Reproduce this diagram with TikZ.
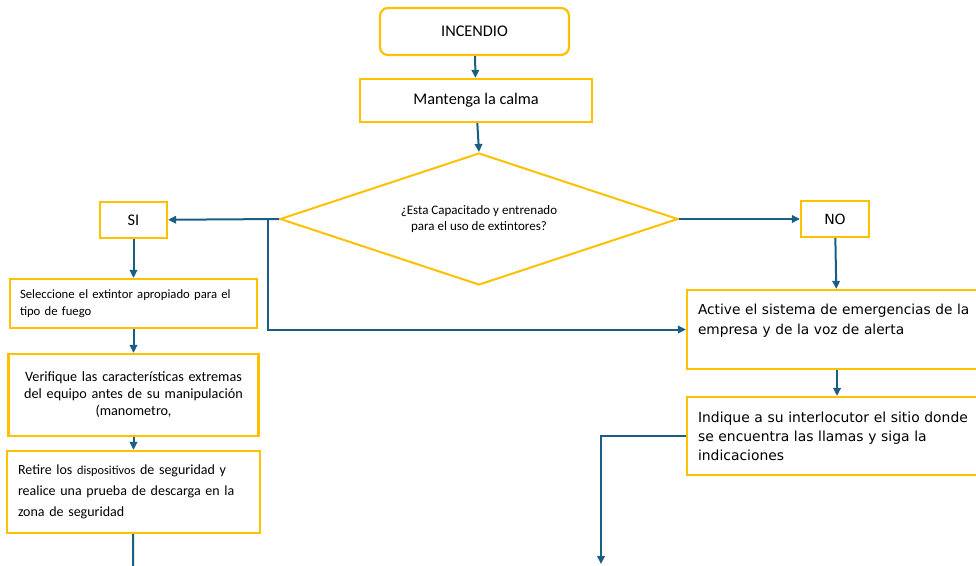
\documentclass[tikz,border=0pt]{standalone}
\usepackage{fontspec}
\setmainfont{Carlito}
\newfontfamily\verdfont{DejaVu Sans}
\usetikzlibrary{shapes.geometric,arrows.meta}
\definecolor{gold}{HTML}{FFC000}
\definecolor{flecha}{HTML}{1B5E84}
\begin{document}
\begin{tikzpicture}[
    x=1pt, y=-1pt,
    box/.style={
        rectangle, draw=gold, fill=white, line width=2.2pt,
        inner sep=0pt, align=center,
        font=\fontsize{16.3}{19}\selectfont
    },
    startbox/.style={box, rounded corners=8pt},
    decision/.style={
        diamond, aspect=3, draw=gold, fill=white, line width=2pt,
        inner sep=0pt, align=center,
        minimum width=398pt, minimum height=132pt,
        font=\fontsize{13}{16}\selectfont
    },
    textbox/.style={box, align=left},
    arr/.style={-{Triangle[length=8pt,width=7.5pt]}, line width=2pt, flecha},
    lin/.style={line width=2pt, flecha},
]
\useasboundingbox (0,0) rectangle (976,565);
\clip (0,0) rectangle (976,565);

% Nodes
\node[startbox, minimum width=189pt, minimum height=47pt] (incendio) at (474.5,31.5) {INCENDIO};
\node[box, minimum width=232pt, minimum height=43pt] (calma) at (476,100.5) {Mantenga la calma};
\node[decision] (pregunta) at (479,219) {¿Esta Capacitado y entrenado\\para el uso de extintores?};
\node[box, minimum width=67pt, minimum height=36pt] (si) at (133.5,220) {SI};
\node[box, minimum width=68pt, minimum height=36pt, font=\verdfont\fontsize{14}{17}\selectfont] (no) at (835,219) {NO};

% Left branch
\node[textbox, below of=si, node distance=83.5pt, minimum width=247pt, minimum height=49pt,
    text width=227pt, font=\fontsize{12.7}{17}\selectfont] (selec)
    {Seleccione el extintor apropiado para el\\tipo de fuego};
\node[box, below of=selec, node distance=91.5pt, minimum width=250pt, minimum height=82pt,
    text width=240pt, font=\fontsize{14.2}{17}\selectfont] (verif)
    {Verifique las características extremas\\del equipo antes de su manipulación\\(manometro,};
\node[textbox, below of=verif, node distance=97pt, minimum width=253pt, minimum height=82pt,
    text width=231pt, font=\fontsize{14}{21}\selectfont] (retire)
    {Retire los {\fontsize{12.3}{21}\selectfont dispositivos} de seguridad y\\realice una prueba de descarga en la\\zona de seguridad};

% Right branch
\node[textbox, minimum width=300pt, minimum height=79pt, text width=278pt,
    font=\verdfont\fontsize{13.75}{20}\selectfont] (activa) at (837,329.5)
    {Active el sistema de emergencias de la\\empresa y de la voz de alerta\\\mbox{}};
\node[textbox, below of=activa, node distance=106.5pt, minimum width=300pt, minimum height=78pt,
    text width=278pt, font=\verdfont\fontsize{13.9}{19}\selectfont] (indique)
    {Indique a su interlocutor el sitio donde\\se encuentra las llamas y siga la\\indicaciones};

\coordinate (split) at (268,219);
\coordinate (fin1) at (133,570);
\coordinate (fin2) at (601,564);

% Arrows
\draw[arr] (incendio) -- (calma);
\draw[arr] (calma) -- (pregunta.north);
\draw[arr] (pregunta.west) -- (si);
\draw[arr] (split) |- (activa.west);
\draw[arr] (pregunta.east) -- (no);
\draw[arr] (no) -- (activa);
\draw[arr] (activa) -- (indique);
\draw[arr] (indique.west) -| (fin2);
\draw[arr] (si) -- (selec);
\draw[arr] (selec) -- (verif);
\draw[arr] (verif) -- (retire);
\draw[lin] (retire) -- (fin1);

\end{tikzpicture}
\end{document}
